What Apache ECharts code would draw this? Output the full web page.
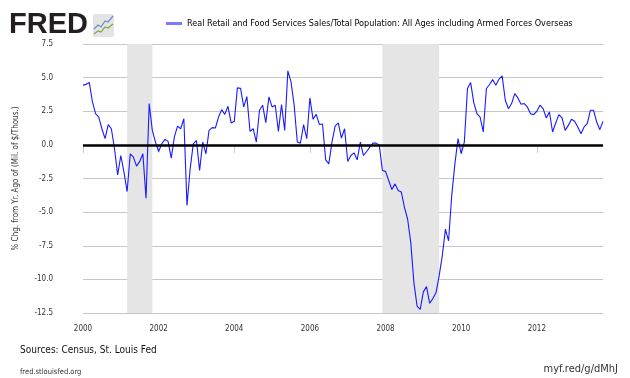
<!DOCTYPE html>
<html><head><meta charset="utf-8">
<script src="https://cdn.jsdelivr.net/npm/echarts@6/dist/echarts.min.js"></script>
<style>html,body{margin:0;padding:0;background:#fff}#c{width:630px;height:378px}</style>
</head><body><div id="c"></div><script>
// Monthly observations, Jan 2000 .. Oct 2013
const startYear = 2000;
const seriesName = 'Real Retail and Food Services Sales/Total Population: All Ages including Armed Forces Overseas';
const values = [
 4.44, 4.5, 4.63, 3.19, 2.32, 2.07, 1.2, 0.46, 1.5, 1.2, -0.29, -2.23,
 -0.79, -2.03, -3.47, -0.66, -0.91, -1.58, -1.23, -0.66, -3.97, 3.07, 1.08, 0.21,
 -0.49, 0.08, 0.41, 0.26, -0.99, 0.6, 1.4, 1.2, 1.95, -4.5, -1.78, 0.08,
 0.33, -1.9, 0.2, -0.66, 1.08, 1.28, 1.25, 2.07, 2.62, 2.27, 2.87, 1.63,
 1.75, 4.24, 4.2, 2.82, 3.59, 1.0, 1.2, 0.21, 2.57, 2.95, 1.65, 3.57,
 2.82, 2.95, 1.0, 2.99, 1.08, 5.5, 4.69, 2.95, 0.21, 0.13, 1.5, 0.46,
 3.49, 1.9, 2.27, 1.52, 1.55, -1.11, -1.41, 0.21, 1.4, 1.63, 0.51, 1.2,
 -1.23, -0.79, -0.59, -1.11, 0.21, -0.79, -0.49, -0.17, 0.13, 0.13, 0.0, -1.9,
 -1.97, -2.65, -3.32, -2.9, -3.4, -3.5, -4.64, -5.51, -7.25, -10.24, -11.98, -12.23,
 -10.93, -10.54, -11.78, -11.43, -11.0, -9.74, -8.25, -6.26, -7.13, -3.77, -1.41, 0.46,
 -0.66, 0.21, 4.19, 4.63, 3.14, 2.32, 2.07, 0.96, 4.19, 4.49, 4.85, 4.44,
 4.89, 5.13, 3.32, 2.69, 3.07, 3.81, 3.49, 3.02, 3.07, 2.82, 2.32, 2.25,
 2.5, 2.95, 2.69, 2.0, 2.45, 0.96, 1.63, 2.25, 2.0, 1.08, 1.45, 1.9,
 1.75, 1.33, 0.83, 1.33, 1.58, 2.57, 2.57, 1.7, 1.13, 1.75
];
const recessions = [['2001-03', '2001-11'], ['2007-12', '2009-06']];
const yTicks = [-12.5, -10, -7.5, -5, -2.5, 0, 2.5, 5, 7.5];
const yAxisTitle = '% Chg. from Yr. Ago of (Mil. of $/Thous.)';

const categories = values.map((v, i) => {
  const y = startYear + Math.floor(i / 12);
  const m = (i % 12) + 1;
  return y + '-' + (m < 10 ? '0' + m : m);
});
const isLabel = (idx, val) => {
  const s = val || categories[idx];
  return s.endsWith('-01') && (parseInt(s.slice(0, 4)) % 2 === 0);
};

const chart = echarts.init(document.getElementById('c'), null, {renderer: 'canvas'});
const narrow = "'Liberation Sans Narrow', 'DejaVu Sans Condensed', 'Liberation Sans', sans-serif";
chart.setOption({
  animation: false,
  backgroundColor: '#ffffff',
  grid: {left: 83, right: 27, top: 44, bottom: 65},
  legend: {
    show: true, left: 161, top: 14, itemWidth: 16, itemHeight: 3, itemGap: 6,
    icon: 'rect',
    textStyle: {fontSize: 9, color: '#000', fontFamily: narrow},
    data: [{name: seriesName, itemStyle: {color: '#7b7bff'}}]
  },
  xAxis: {
    type: 'category', data: categories, boundaryGap: false,
    axisLine: {lineStyle: {color: '#c0d0e0', width: 1}},
    axisTick: {show: true, interval: isLabel, length: 8, lineStyle: {color: '#c0d0e0'}},
    axisLabel: {interval: isLabel, formatter: v => v.slice(0, 4), fontSize: 8, color: '#333', margin: 12, fontFamily: narrow},
    splitLine: {show: false}
  },
  yAxis: {
    type: 'value', min: yTicks[0], max: yTicks[yTicks.length - 1], interval: 2.5,
    name: yAxisTitle, nameLocation: 'middle', nameGap: 63,
    nameTextStyle: {fontSize: 8, color: '#333', fontFamily: narrow},
    axisLine: {show: false}, axisTick: {show: false},
    axisLabel: {formatter: v => v.toFixed(1), fontSize: 8, color: '#333', margin: 30, fontFamily: narrow},
    splitLine: {lineStyle: {color: '#c6c6c6', width: 1}}
  },
  series: [{
    name: seriesName, type: 'line', data: values, showSymbol: false,
    lineStyle: {color: '#1a1aff', width: 1.1}, itemStyle: {color: '#1a1aff'},
    markArea: {silent: true, itemStyle: {color: '#e5e5e5'},
      data: recessions.map(r => [{xAxis: r[0]}, {xAxis: r[1]}])},
    markLine: {silent: true, symbol: 'none', label: {show: false},
      lineStyle: {color: '#000', width: 2.5, type: 'solid'}, data: [{yAxis: 0}]}
  }],
  graphic: [
    {type: 'text', left: 9, top: 10, style: {text: 'FRED', font: "bold 29px 'Liberation Sans', sans-serif", fill: '#231f20'}},
    {type: 'rect', shape: {x: 93, y: 14, width: 21, height: 23, r: 2}, style: {fill: '#e4e4e4'}},
    {type: 'polyline', shape: {points: [[94, 29], [98, 25], [101, 27], [105, 21], [108, 22], [113, 16]]}, style: {stroke: '#6a8fc8', lineWidth: 1.2, fill: null}},
    {type: 'polyline', shape: {points: [[94, 34], [98, 31], [101, 32], [105, 27], [108, 28], [113, 24]]}, style: {stroke: '#7aa84a', lineWidth: 1.2, fill: null}},
    {type: 'text', left: 20, top: 345, style: {text: 'Sources: Census, St. Louis Fed', font: "10px " + narrow, fill: '#111'}},
    {type: 'text', left: 20, top: 368, style: {text: 'fred.stlouisfed.org', font: "7.5px " + narrow, fill: '#333'}},
    {type: 'text', right: 12, top: 364, style: {text: 'myf.red/g/dMhJ', font: "11px 'DejaVu Sans Condensed', sans-serif", fill: '#333'}}
  ]
});
</script></body></html>
